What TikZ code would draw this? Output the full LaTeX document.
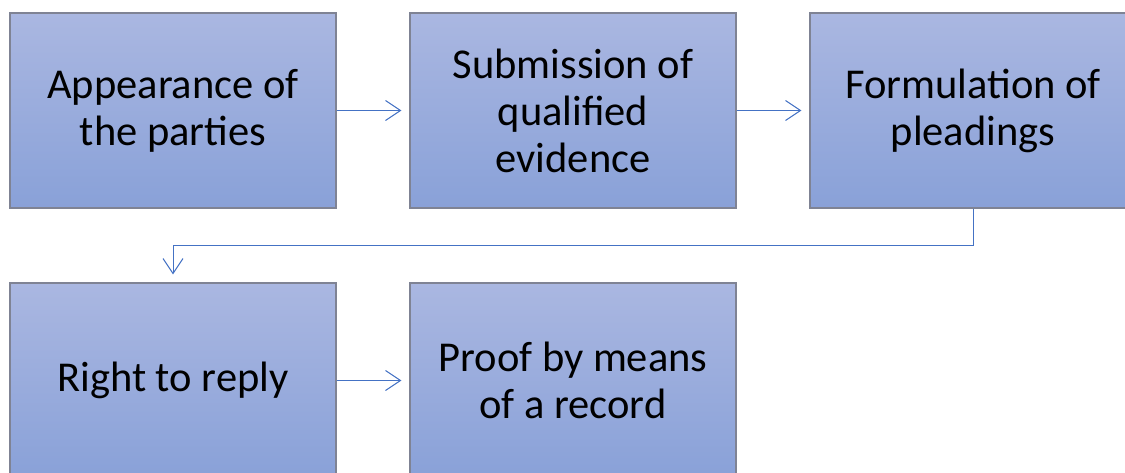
\documentclass[tikz,border=0pt]{standalone}
\usepackage{fontspec}
\setmainfont{Carlito}
\usetikzlibrary{arrows.meta}

\definecolor{boxtop}{HTML}{AAB7E1}
\definecolor{boxbottom}{HTML}{89A1D8}
\definecolor{boxedge}{HTML}{7F8394}
\definecolor{linkblue}{HTML}{4472C4}

\begin{document}
\begin{tikzpicture}[x=1pt, y=-1pt, >={Straight Barb[length=15pt,width=20pt]},
    stepbox/.style={draw=boxedge, line width=1.2pt, top color=boxtop, bottom color=boxbottom,
        minimum width=326pt, minimum height=195pt, inner sep=0pt, align=center,
        font=\fontsize{42.5}{47}\selectfont},
    link/.style={draw=linkblue, line width=1pt, ->, shorten >=8pt}]
    % 画布大小
    \useasboundingbox (0,0) rectangle (1125,472);
    \clip (0,0) rectangle (1125,472);

    % 第一行
    \node[stepbox] (appearance) at (173,110.5) {Appearance of\\the parties};
    \node[stepbox] (submission) at (573,110.5) {Submission of\\qualified\\evidence};
    \node[stepbox] (formulation) at (973,110.5) {Formulation of\\pleadings};

    % 第二行
    \node[stepbox] (reply) at (173,380.5) {Right to reply};
    \node[stepbox] (record) at (573,380.5) {Proof by means\\of a record};

    % 连接箭头
    \draw[link] (appearance) -- (submission);
    \draw[link] (submission) -- (formulation);
    \draw[link] (formulation.south) -- ++(0,37) -| (reply.north);
    \draw[link] (reply) -- (record);
\end{tikzpicture}
\end{document}
